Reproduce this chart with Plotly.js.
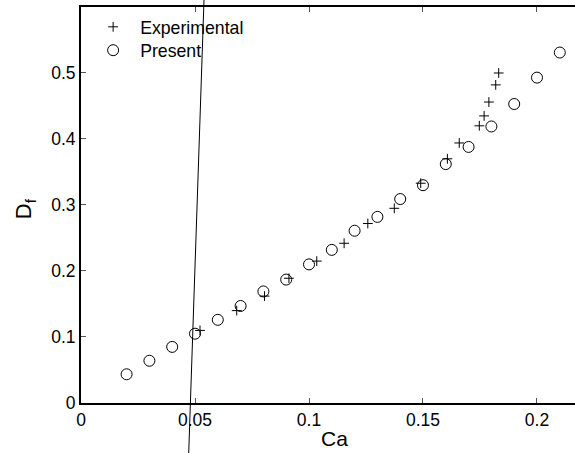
<!DOCTYPE html>
<html>
<head>
<meta charset="utf-8">
<script src="https://cdn.plot.ly/plotly-3.0.1.min.js"></script>
<style>html,body{margin:0;padding:0;background:#fff;}#chart{width:575px;height:453px;}</style>
</head>
<body>
<div id="chart"></div>
<script>
// Experimental data (crosses)
var expCa = [0.0522, 0.0683, 0.0805, 0.0912, 0.1034, 0.1154, 0.1258, 0.1374, 0.149, 0.1607, 0.1659, 0.1747, 0.1768, 0.1789, 0.1819, 0.1832];
var expDf = [0.110, 0.140, 0.162, 0.189, 0.215, 0.242, 0.272, 0.295, 0.333, 0.370, 0.394, 0.420, 0.435, 0.456, 0.482, 0.500];
// Present results (circles)
var preCa = [0.02, 0.03, 0.04, 0.05, 0.06, 0.07, 0.08, 0.09, 0.10, 0.11, 0.12, 0.13, 0.14, 0.15, 0.16, 0.17, 0.18, 0.19, 0.20, 0.21];
var preDf = [0.0435, 0.064, 0.085, 0.105, 0.126, 0.147, 0.169, 0.187, 0.210, 0.232, 0.261, 0.282, 0.309, 0.330, 0.362, 0.388, 0.419, 0.453, 0.493, 0.531];
// Straight line crossing the figure
var lineCa = [0.04724, 0.05395];
var lineDf = [-0.0758, 0.6106];
// Tick labels
var xTicks = [0, 0.05, 0.1, 0.15, 0.2];
var xTickText = ["0", "0.05", "0.1", "0.15", "0.2"];
var yTicks = [0, 0.1, 0.2, 0.3, 0.4, 0.5];
var yTickText = ["0", "0.1", "0.2", "0.3", "0.4", "0.5"];

var FONT = "Liberation Sans, Arial, Helvetica, sans-serif";

var traces = [
  {x: expCa, y: expDf, type: 'scatter', mode: 'markers', name: 'Experimental',
   marker: {symbol: 'cross-thin-open', size: 7, color: '#000', line: {width: 1, color: '#000'}},
   xaxis: 'x', yaxis: 'y', cliponaxis: false, legend: 'legend'},
  {x: preCa, y: preDf, type: 'scatter', mode: 'markers', name: 'Present',
   marker: {symbol: 'circle-open', size: 11, color: '#000', line: {width: 1, color: '#000'}},
   xaxis: 'x', yaxis: 'y', cliponaxis: false, legend: 'legend2'},
  {x: lineCa, y: lineDf, type: 'scatter', mode: 'lines', showlegend: false,
   line: {color: '#000', width: 1}, xaxis: 'x2', yaxis: 'y2', hoverinfo: 'skip'}
];

var legendBase = {xanchor: 'left', yanchor: 'middle', bgcolor: 'rgba(0,0,0,0)',
  borderwidth: 0, itemwidth: 44, font: {family: FONT, size: 17.7, color: '#000'}};

var layout = {
  width: 575, height: 453,
  margin: {l: 0, r: 0, t: 0, b: 0},
  paper_bgcolor: '#fff', plot_bgcolor: 'rgba(0,0,0,0)',
  font: {family: FONT, size: 17.5, color: '#000'},
  showlegend: true,
  legend: Object.assign({}, legendBase, {x: 0.1498, y: 0.9397}),
  legend2: Object.assign({}, legendBase, {x: 0.1498, y: 0.8881}),
  xaxis: {domain: [0.14087, 1], range: [0, 0.21667], tickvals: xTicks, ticktext: xTickText,
          ticks: 'inside', ticklen: 5, tickwidth: 1, tickcolor: '#555',
          showline: true, linewidth: 2, linecolor: '#000', mirror: 'ticks',
          showgrid: false, zeroline: false, anchor: 'y',
          tickfont: {family: FONT, size: 17.5, color: '#000'}},
  yaxis: {domain: [0.11038, 0.98455], range: [0, 0.6], tickvals: yTicks, ticktext: yTickText,
          ticks: 'inside', ticklen: 5, tickwidth: 1, tickcolor: '#555',
          showline: true, linewidth: 2, linecolor: '#000', mirror: false,
          showgrid: false, zeroline: false, anchor: 'x',
          tickfont: {family: FONT, size: 17.5, color: '#000'}},
  xaxis2: {domain: [0, 1], range: [-0.03553, 0.21667], visible: false, anchor: 'y2', fixedrange: true},
  yaxis2: {domain: [0, 1], range: [-0.07576, 0.61061], visible: false, anchor: 'x2', fixedrange: true},
  annotations: [
    {text: 'Ca', xref: 'paper', yref: 'paper', x: 0.5809, y: 0.031, xanchor: 'center', yanchor: 'middle',
     showarrow: false, font: {family: FONT, size: 21, color: '#000'}},
    {text: 'D<sub>f</sub>', xref: 'paper', yref: 'paper', x: 0.043, y: 0.5397, xanchor: 'center', yanchor: 'middle',
     textangle: -90, showarrow: false, font: {family: FONT, size: 22, color: '#000'}}
  ]
};

Plotly.newPlot('chart', traces, layout, {displayModeBar: false, staticPlot: true});
</script>
</body>
</html>
